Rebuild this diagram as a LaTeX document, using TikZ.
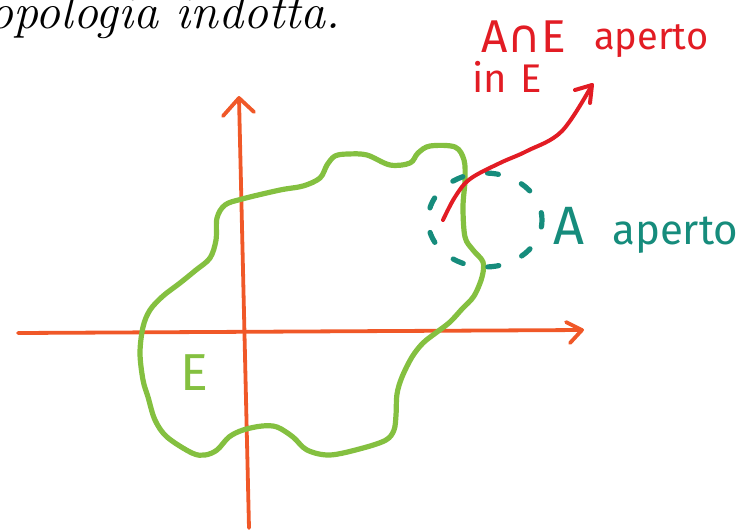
\documentclass[tikz,border=0pt]{standalone}
\usepackage{fontspec}
\newfontfamily\hand{Fira Sans}
\newfontfamily\symf{DejaVu Sans}
\definecolor{axcol}{RGB}{240,88,40}
\definecolor{blobcol}{RGB}{132,192,64}
\definecolor{redcol}{RGB}{226,28,36}
\definecolor{tealcol}{RGB}{22,140,124}
\tikzset{
  axis/.style={draw=axcol, line width=3.8pt, line cap=round, line join=round},
  blob/.style={draw=blobcol, line width=5.2pt, line cap=round, line join=round},
  redline/.style={draw=redcol, line width=4pt, line cap=round, line join=round},
  tealdash/.style={draw=tealcol, line width=5.2pt, line cap=round, dash pattern=on 11pt off 25pt, dash phase=4pt},
  lab/.style={inner sep=0pt, anchor=base west},
}
\begin{document}
\begin{tikzpicture}[x=1pt,y=-1pt]
\useasboundingbox (0,0) rectangle (751,531);
% title
\node[lab] (title) at (-12,28) {\fontsize{50}{54}\selectfont\itshape opologia indotta.};
% axes
\coordinate (xs) at (18,333);
\coordinate (xe) at (582,330);
\coordinate (xa1) at (566,322);
\coordinate (xa2) at (570,343);
\coordinate (ys) at (249,528);
\coordinate (ye) at (239,98);
\coordinate (ya1) at (223,116);
\coordinate (ya2) at (254,112);
\draw[axis] (xs) -- (xe);
\draw[axis] (xa1) -- (xe) -- (xa2);
\draw[axis] (ys) -- (ye);
\draw[axis] (ya1) -- (ye) -- (ya2);
% blob E
\draw[blob] plot[smooth cycle, tension=0.55] coordinates {
(150,310) (163,296) (180,283) (196,270) (210,258) (216,240) (217,218) (225,205)
(242,199) (280,190) (303,186) (320,178) (327,165) (335,156) (348,154) (367,155)
(390,165) (410,163) (418,153) (430,146) (455,147) (464,160) (465,180) (463,207)
(465,237) (473,250) (483,262) (482,277) (474,296) (462,309) (450,322) (437,332)
(423,343) (412,357) (402,377) (397,394) (396,415) (394,430) (386,440) (363,448)
(330,455) (307,450) (293,437) (277,427) (262,426) (243,430) (229,437) (217,450)
(205,455) (192,453) (167,437) (155,420) (148,397) (143,380) (140,353) (143,327)};
\node[lab, text=blobcol] (E) at (180,390) {\hand\fontsize{52}{56}\selectfont E};
% teal dashed circle A
\draw[tealdash] (485,220) ellipse [x radius=57, y radius=47];
\node[lab, text=tealcol] (A) at (553,244) {\hand\fontsize{54}{58}\selectfont A};
\node[lab, text=tealcol] (Aap) at (612,244) {\hand\fontsize{42}{46}\selectfont aperto};
% red arrow
\coordinate (rs) at (443,220);
\coordinate (re) at (592,85);
\coordinate (ra1) at (575,90);
\coordinate (ra2) at (590,103);
\draw[redline] plot[smooth, tension=0.6] coordinates {(443,220) (455,197) (470,179) (500,163) (527,151) (562,131) (592,85)};
\draw[redline] (ra1) -- (re) -- (ra2);
\node[lab, text=redcol] (AE) at (481,52) {\hand\fontsize{46}{50}\selectfont A{\symf ∩}E};
\node[lab, text=redcol] (ap) at (594,49) {\hand\fontsize{38}{42}\selectfont aperto};
\node[lab, text=redcol] (inE) at (472,92) {\hand\fontsize{40}{44}\selectfont in\,\,E};
\end{tikzpicture}
\end{document}
